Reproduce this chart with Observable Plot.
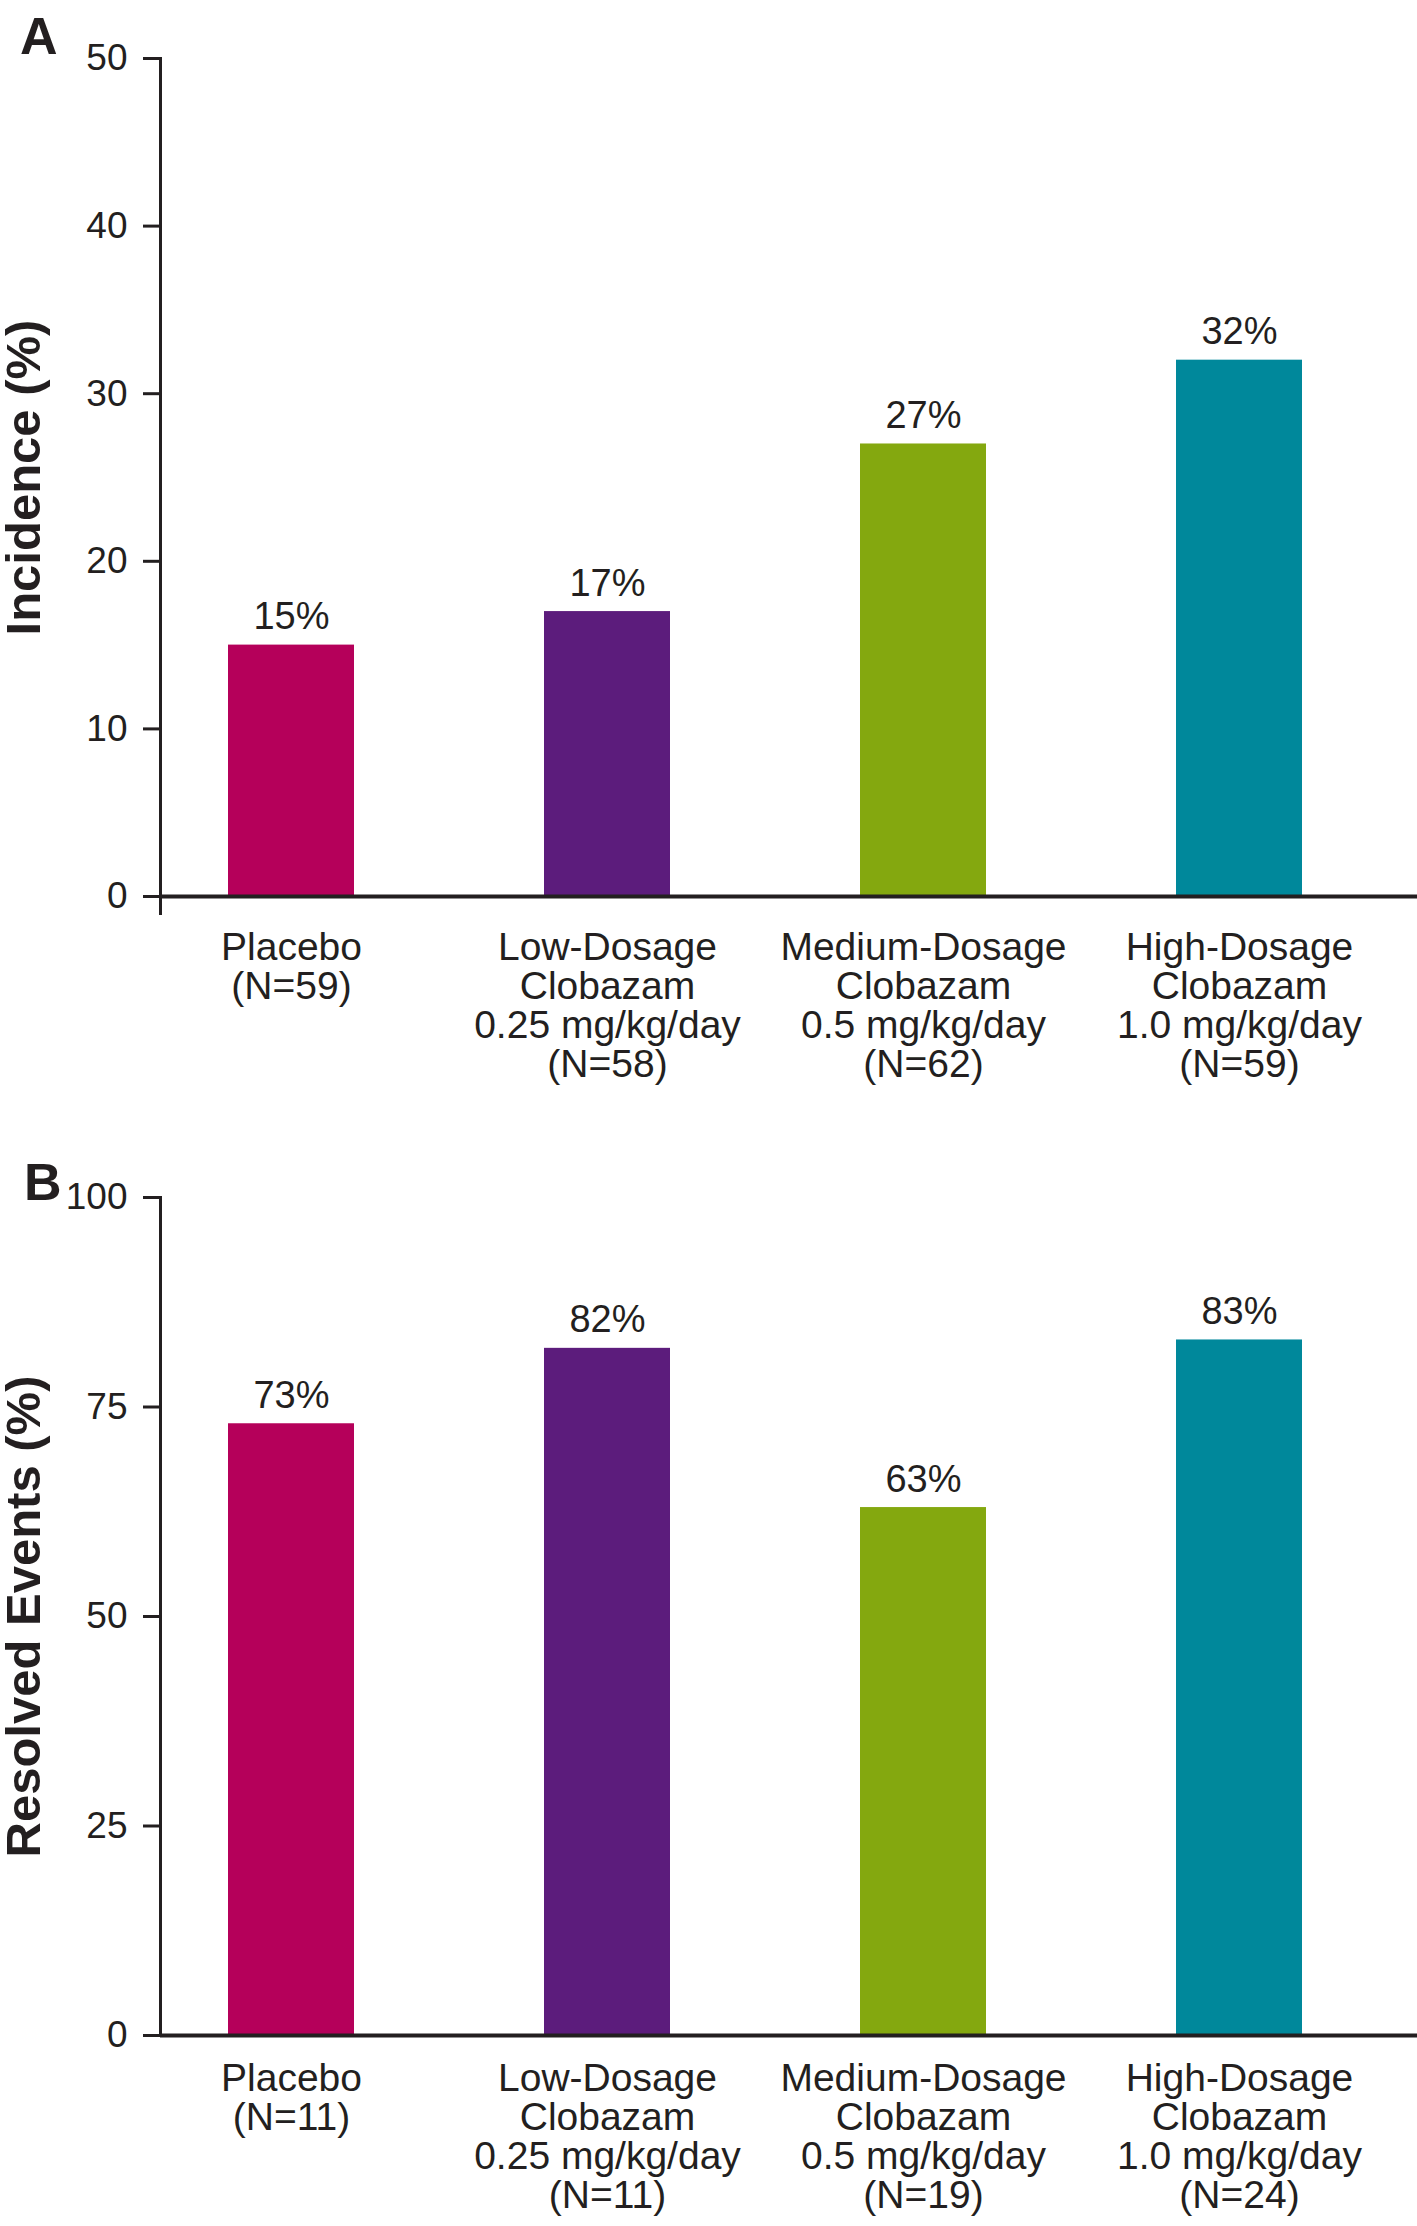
<!DOCTYPE html>
<html><head><meta charset="utf-8">
<script src="https://cdn.jsdelivr.net/npm/d3@7"></script>
<script src="https://cdn.jsdelivr.net/npm/@observablehq/plot@0.6"></script>
<style>
body{margin:0;background:#fff;}
#wrap{position:relative;width:1417px;height:2226px;font-family:"Liberation Sans",Arial,sans-serif;color:#231f20;background:#fff;}
.panel{position:absolute;font-weight:bold;font-size:52px;line-height:1;}
#chartA{position:absolute;left:0;top:0;}
#chartB{position:absolute;left:0;top:1100px;}
</style></head><body>
<div id="wrap">
<div id="chartA"></div><div id="chartB"></div>
<div class="panel" style="left:20px;top:10px">A</div>
<div class="panel" style="left:24px;top:1156px">B</div>
</div>
<script>
const groups = ["Placebo", "Low-Dosage\nClobazam\n0.25 mg/kg/day", "Medium-Dosage\nClobazam\n0.5 mg/kg/day", "High-Dosage\nClobazam\n1.0 mg/kg/day"];
const colors = ["#b5005a", "#5c1c7c", "#84a80f", "#00889b"];
const nA = [59, 58, 62, 59];
const incidence = [15, 17, 27, 32];
const nB = [11, 11, 19, 24];
const resolved = [73, 82, 63, 83];
const ticksA = [0, 10, 20, 30, 40, 50];
const ticksB = [0, 25, 50, 75, 100];
const titleA = "Incidence (%)";
const titleB = "Resolved Events (%)";

function chart({values, ns, ticks, ymax, title, height, marginTop, marginBottom, labelPad, extendAxis}) {
  const data = groups.map((g, i) => ({g, v: values[i], n: ns[i]}));
  const labelOf = new Map(data.map(d => [d.g, `${d.g}\n(N=${d.n})`]));
  const svg = Plot.plot({
    width: 1417, height, marginTop, marginBottom, marginLeft: 160, marginRight: 0,
    style: {fontFamily: '"Liberation Sans", Arial, sans-serif', color: "#231f20", background: "white", overflow: "visible"},
    x: {domain: groups, range: [132, 1398], paddingInner: 0.6, paddingOuter: 0.3, axis: null},
    y: {domain: [0, ymax], axis: null},
    color: {domain: groups, range: colors},
    marks: [
      Plot.barY(data, {x: "g", y: "v", fill: "g"}),
      Plot.text(data, {x: "g", y: "v", text: d => `${d.v}%`, lineAnchor: "bottom", dy: -16, fontSize: 38, fill: "#231f20"}),
      Plot.axisY({ticks, tickSize: 17, tickPadding: 16, fontSize: 37, strokeWidth: 3, label: null, tickFormat: d => d}),
      Plot.axisX({tickSize: 0, tickPadding: labelPad, fontSize: 39, lineHeight: 1, tickFormat: g => labelOf.get(g), label: null}),
      Plot.ruleY([0], {strokeWidth: 4, stroke: "#231f20"}),
      Plot.frame({anchor: "left", stroke: "#231f20", strokeWidth: 3, insetBottom: extendAxis ? -17 : 0}),
      Plot.text([title], {frameAnchor: "left", textAnchor: "middle", rotate: -90, dx: -136, fontSize: 49, fontWeight: "bold", fill: "#231f20", ariaLabel: "ytitle"})
    ]
  });
  const t = svg.querySelector('g[aria-label="ytitle"]');
  if (t) t.querySelectorAll("text").forEach(el => el.setAttribute("letter-spacing", "1.6"));
  return svg;
}

document.getElementById("chartA").append(chart({
  values: incidence, ns: nA, ticks: ticksA, ymax: 50, title: titleA,
  height: 1100, marginTop: 58, marginBottom: 204, labelPad: 36, extendAxis: true
}));
document.getElementById("chartB").append(chart({
  values: resolved, ns: nB, ticks: ticksB, ymax: 100, title: titleB,
  height: 1126, marginTop: 97, marginBottom: 191, labelPad: 28, extendAxis: false
}));
</script>
</body></html>
